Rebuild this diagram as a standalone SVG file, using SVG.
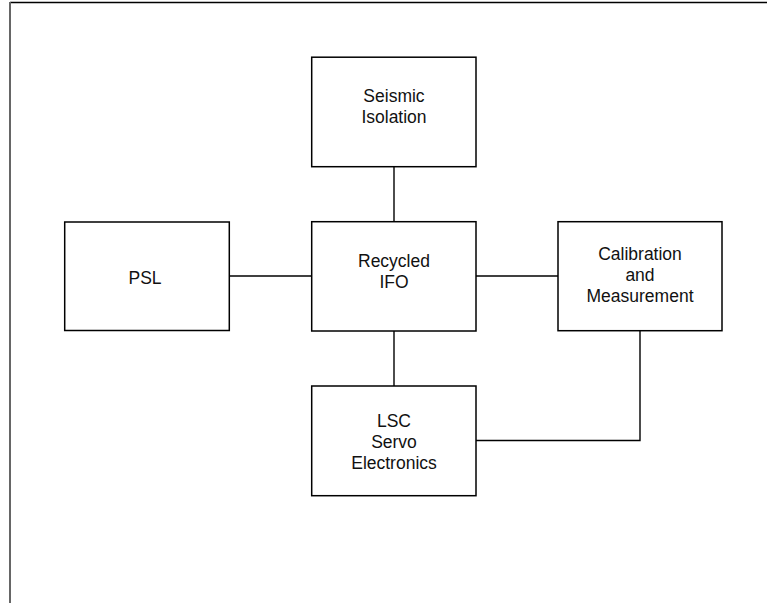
<svg xmlns="http://www.w3.org/2000/svg" width="767" height="603" viewBox="0 0 767 603">
<style>
.box{fill:#fff;stroke:#000;stroke-width:1.5}
.wire{fill:none;stroke:#000;stroke-width:1.4}
.lbl{font-family:"Liberation Sans",Arial,sans-serif;font-size:17.5px;fill:#111;text-anchor:middle}
</style>
<rect width="767" height="603" fill="#fff"/>
<g id="frame">
<line x1="10" y1="2.5" x2="767" y2="2.5" stroke="#000" stroke-width="1.6"/>
<line x1="10" y1="2" x2="10" y2="603" stroke="#666" stroke-width="2"/>
</g>
<g id="connectors">
<line class="wire" x1="394" y1="166.7" x2="394" y2="221.7"/>
<line class="wire" x1="229.3" y1="276" x2="311.7" y2="276"/>
<line class="wire" x1="476" y1="276" x2="558" y2="276"/>
<line class="wire" x1="394" y1="331" x2="394" y2="386"/>
<polyline class="wire" points="476,440.5 640,440.5 640,330.7"/>
</g>
<g id="seismic">
<rect class="box" x="311.7" y="57.2" width="164.3" height="109.5"/>
<text class="lbl" x="394" y="101.7">Seismic</text>
<text class="lbl" x="394" y="123.3">Isolation</text>
</g>
<g id="psl">
<rect class="box" x="64.7" y="222" width="164.6" height="108.5"/>
<text class="lbl" x="145" y="284">PSL</text>
</g>
<g id="ifo">
<rect class="box" x="311.7" y="221.7" width="164.3" height="109.3"/>
<text class="lbl" x="394" y="267.3">Recycled</text>
<text class="lbl" x="394" y="288.3">IFO</text>
</g>
<g id="calibration">
<rect class="box" x="558" y="221.7" width="164" height="109"/>
<text class="lbl" x="640" y="260">Calibration</text>
<text class="lbl" x="640" y="280.8">and</text>
<text class="lbl" x="640" y="301.6">Measurement</text>
</g>
<g id="lsc">
<rect class="box" x="311.7" y="386" width="164.3" height="109.7"/>
<text class="lbl" x="394" y="426.5">LSC</text>
<text class="lbl" x="394" y="447.5">Servo</text>
<text class="lbl" x="394" y="468.5">Electronics</text>
</g>
</svg>
